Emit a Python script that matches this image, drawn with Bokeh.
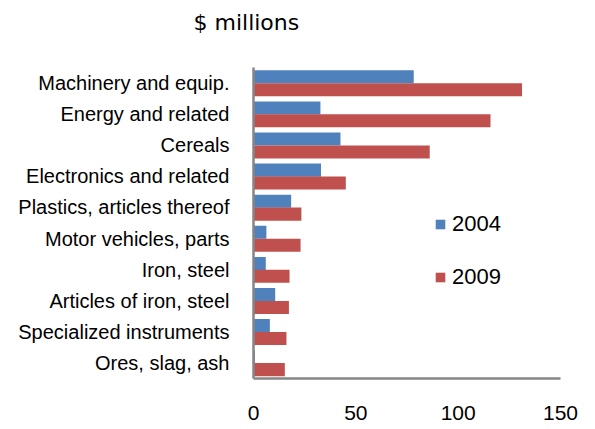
from bokeh.plotting import figure
from bokeh.models import Range1d, FactorRange, FixedTicker, Legend, LegendItem, Title, ColumnDataSource
from bokeh.transform import dodge
from bokeh.embed import file_html
from bokeh.resources import INLINE

categories = ["Machinery and equip.", "Energy and related", "Cereals", "Electronics and related",
              "Plastics, articles thereof", "Motor vehicles, parts", "Iron, steel",
              "Articles of iron, steel", "Specialized instruments", "Ores, slag, ash"]
values_2004 = [78.3, 32.7, 42.5, 33.0, 18.4, 6.3, 6.0, 10.6, 8.0, 0.7]
values_2009 = [131.2, 115.8, 86.1, 45.1, 23.4, 23.0, 17.6, 17.3, 16.1, 15.3]
x_ticks = [0, 50, 100, 150]

BLUE = "#4F81BD"
RED = "#C0504D"
AXIS = "#868686"

src = ColumnDataSource(dict(cat=categories, v04=values_2004, v09=values_2009))

p = figure(width=595, height=429, output_backend="svg", toolbar_location=None,
           x_range=Range1d(0, 150), y_range=FactorRange(*categories[::-1], range_padding=0),
           min_border_left=253, min_border_right=35, min_border_top=67, min_border_bottom=51)
p.y_range.factor_padding = 0

r04 = p.hbar(y=dodge("cat", 0.2, range=p.y_range), right="v04", left=0, height=0.42,
             source=src, fill_color=BLUE, line_color=None)
r09 = p.hbar(y=dodge("cat", -0.215, range=p.y_range), right="v09", left=0, height=0.42,
             source=src, fill_color=RED, line_color=None)

p.xgrid.visible = False
p.ygrid.visible = False
p.outline_line_color = None
p.background_fill_color = "white"
p.border_fill_color = "white"

xa = p.xaxis[0]
xa.ticker = FixedTicker(ticks=x_ticks)
xa.axis_line_color = AXIS
xa.axis_line_width = 2.5
xa.major_tick_line_color = None
xa.minor_tick_line_color = None
xa.major_tick_out = 0
xa.major_label_standoff = 27
xa.major_label_text_font = "Liberation Sans"
xa.major_label_text_font_size = "21px"
xa.major_label_text_color = "black"

ya = p.yaxis[0]
ya.axis_line_color = AXIS
ya.axis_line_width = 2.5
ya.major_tick_line_color = None
ya.minor_tick_line_color = None
ya.major_tick_out = 0
ya.major_label_standoff = 24
ya.major_label_text_font = "Liberation Sans"
ya.major_label_text_font_size = "20px"
ya.major_label_text_color = "black"

# second (blank) line keeps the title line in the upper part of the top margin
title = Title(text="$ millions\n ", align="left", offset=-60, standoff=12, vertical_align="top",
              text_font="DejaVu Sans", text_font_size="22px", text_font_style="normal",
              text_color="black")
p.add_layout(title, "above")

legend = Legend(items=[LegendItem(label="2004", renderers=[r04]),
                       LegendItem(label="2009", renderers=[r09])],
                location=(181, 88), orientation="vertical",
                glyph_width=12, glyph_height=12, label_height=22, spacing=27,
                label_standoff=6, padding=0, margin=0,
                label_text_font="Liberation Sans", label_text_font_size="22px",
                label_text_color="black",
                border_line_alpha=0, background_fill_alpha=0)
p.add_layout(legend, "center")

open("out.html", "w").write(file_html(p, INLINE))
